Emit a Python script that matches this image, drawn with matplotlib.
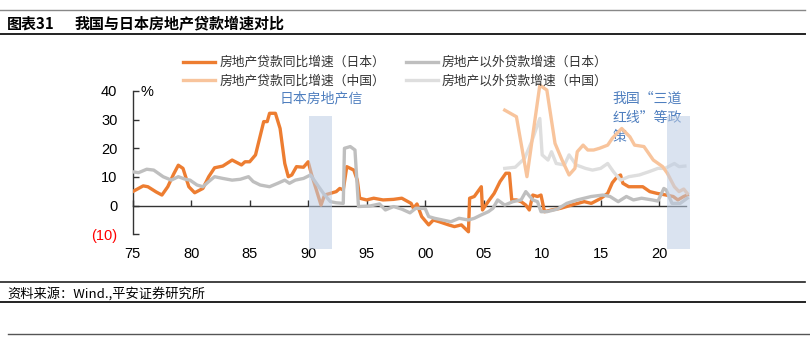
import matplotlib
matplotlib.use("Agg")
import matplotlib.pyplot as plt
from matplotlib.lines import Line2D

plt.rcParams['font.family'] = ['Liberation Sans', 'Noto Sans CJK SC', 'DejaVu Sans']

# Japan: real-estate loan growth (yoy, %)
jp_re_x = [1975.0, 1975.9, 1976.3, 1977.0, 1977.5, 1978.0, 1978.5, 1978.9, 1979.3, 1979.8,
           1980.3, 1981.0, 1981.5, 1982.0, 1982.7, 1983.5, 1984.3, 1984.6, 1985.0, 1985.5,
           1986.2, 1986.5, 1986.7, 1987.2, 1987.6, 1988.0, 1988.3, 1988.6, 1989.0, 1989.6,
           1990.0, 1990.3, 1990.7, 1991.1, 1991.4, 1991.9, 1992.4, 1992.7, 1993.0, 1993.3,
           1993.9, 1994.2, 1994.4, 1995.0, 1995.6, 1996.4, 1997.3, 1998.0, 1998.8, 1999.0,
           1999.3, 1999.7, 2000.3, 2000.7, 2001.2, 2002.0, 2002.5, 2003.1, 2003.7, 2003.8,
           2004.2, 2004.8, 2004.9, 2005.4, 2005.9, 2006.4, 2006.9, 2007.2, 2007.4, 2007.8,
           2008.2, 2008.6, 2008.9, 2009.2, 2009.6, 2009.9, 2010.2, 2010.8, 2011.6, 2012.5,
           2013.6, 2014.2, 2015.0, 2015.6, 2016.0, 2016.4, 2016.7, 2016.9, 2017.4, 2018.1,
           2018.6, 2019.2, 2019.8, 2020.6, 2021.2, 2021.6, 2022.1, 2022.4]
jp_re_y = [4.9, 6.9, 6.6, 4.8, 3.7, 6.6, 11.0, 14.1, 13.0, 6.6,
           4.5, 6.0, 10.1, 13.2, 13.8, 15.9, 14.2, 15.3, 15.3, 17.7,
           29.3, 29.3, 32.2, 32.2, 26.9, 14.7, 10.1, 10.7, 13.6, 13.4,
           15.3, 10.7, 5.5, 0.2, 3.7, 4.3, 4.9, 6.0, 5.5, 13.6,
           12.4, 8.9, 2.6, 2.0, 2.6, 2.0, 2.2, 2.6, 0.8, -0.9,
           0.6, -3.8, -6.7, -5.0, -5.6, -6.7, -7.3, -6.7, -9.1, 2.6,
           3.2, 6.6, -1.5, 1.5, 4.3, 8.4, 11.3, 11.3, 2.0, 2.0,
           1.4, 0.2, -1.5, 3.7, 3.2, 3.7, -2.1, -1.5, -0.9, 0.2,
           1.4, 0.8, 2.5, 4.3, 8.0, 10.0, 10.7, 7.8, 6.6, 6.6,
           6.6, 4.9, 4.3, 3.7, 3.2, 2.0, 3.2, 3.7]

# Japan: non-real-estate loan growth
jp_other_x = [1975.0, 1975.5, 1976.2, 1976.8, 1977.6, 1978.3, 1978.9, 1979.5, 1979.9, 1980.5,
              1981.0, 1981.5, 1982.0, 1982.7, 1983.5, 1984.2, 1984.9, 1985.3, 1985.9, 1986.7,
              1987.4, 1988.0, 1988.4, 1988.9, 1989.6, 1990.2, 1990.7, 1991.3, 1991.9, 1992.4,
              1993.0, 1993.1, 1993.6, 1994.0, 1994.3, 1995.3, 1996.1, 1996.6, 1997.3, 1998.0,
              1998.7, 1999.2, 2000.0, 2000.3, 2000.8, 2001.5, 2002.2, 2002.9, 2003.7, 2004.2,
              2004.8, 2005.4, 2005.8, 2006.2, 2006.8, 2007.5, 2008.2, 2008.6, 2009.2, 2009.6,
              2009.9, 2010.4, 2011.3, 2012.1, 2013.0, 2014.2, 2015.2, 2015.8, 2016.5, 2017.2,
              2017.8, 2018.5, 2019.4, 2019.9, 2020.4, 2020.6, 2021.1, 2021.8, 2022.4]
jp_other_y = [11.8, 11.5, 12.7, 12.4, 10.1, 8.9, 10.1, 9.2, 8.9, 7.2,
              6.6, 8.4, 10.1, 9.5, 8.9, 9.2, 10.1, 8.4, 7.2, 6.6,
              7.8, 8.9, 7.8, 8.9, 9.5, 10.7, 7.8, 4.3, 1.4, 1.0,
              0.8, 20.0, 20.6, 19.4, -0.3, -0.1, 0.6, -1.5, -0.3, -1.2,
              -2.5, -0.9, -1.0, -3.8, -4.4, -5.0, -5.6, -4.4, -5.0, -4.4,
              -3.2, -2.1, -0.9, 2.0, 0.2, 1.4, 2.0, 4.9, 2.0, 1.4,
              -2.1, -2.1, -1.2, 0.8, 2.0, 3.2, 3.7, 3.2, 1.4, 3.2,
              2.0, 2.6, 2.0, 1.6, 6.0, 5.5, 0.8, 0.8, 2.6]

# China: real-estate loan growth
cn_re_x = [2006.8, 2007.8, 2008.7, 2009.8, 2010.4, 2011.1, 2011.7, 2012.3, 2012.8, 2013.0,
           2013.5, 2013.9, 2014.4, 2014.9, 2015.6, 2016.0, 2016.8, 2017.5, 2017.9, 2018.7,
           2019.5, 2020.3, 2020.7, 2021.3, 2021.7, 2022.1, 2022.4]
cn_re_y = [33.3, 31.0, 10.1, 42.0, 40.3, 21.7, 15.9, 10.7, 13.0, 18.8,
           21.1, 19.4, 19.4, 20.0, 21.1, 23.5, 26.9, 24.0, 21.1, 20.6,
           15.9, 13.6, 11.3, 6.6, 4.9, 5.8, 4.3]

# China: non-real-estate loan growth
cn_other_x = [2006.8, 2007.7, 2008.5, 2009.1, 2009.8, 2010.0, 2010.5, 2010.8, 2011.2, 2011.9,
              2012.3, 2012.9, 2013.7, 2014.3, 2015.0, 2015.6, 2016.1, 2016.7, 2017.4, 2018.3,
              2019.1, 2019.9, 2020.5, 2021.3, 2021.7, 2022.2]
cn_other_y = [13.0, 13.4, 16.5, 22.3, 30.4, 17.7, 15.9, 18.8, 14.7, 14.2,
              17.7, 14.2, 13.0, 12.4, 13.0, 14.7, 11.8, 8.9, 10.1, 10.7,
              11.8, 13.0, 13.0, 14.7, 13.6, 13.8]

labels = ['房地产贷款同比增速（日本）', '房地产贷款同比增速（中国）',
          '房地产以外贷款增速（日本）', '房地产以外贷款增速（中国）']
year_ticks = [1975, 1980, 1985, 1990, 1995, 2000, 2005, 2010, 2015, 2020]
year_labels = ['75', '80', '85', '90', '95', '00', '05', '10', '15', '20']
value_ticks = [-10, 0, 10, 20, 30, 40]
value_labels = ['(10)', '0', '10', '20', '30', '40']
shade_spans = [(1990.1, 1992.0), (2020.7, 2022.6)]

fig = plt.figure(figsize=(8.1, 3.42), dpi=100)
ax = fig.add_axes([0.1638, 0.2728, 0.6933, 0.5117])

lw = 2.4
l1, = ax.plot(jp_re_x, jp_re_y, color='#ED7D31', lw=lw, zorder=3)
l3, = ax.plot(jp_other_x, jp_other_y, color='#BFBFBF', lw=lw, zorder=4)
l4, = ax.plot(cn_other_x, cn_other_y, color='#DEDEDE', lw=lw, zorder=3)
l2, = ax.plot(cn_re_x, cn_re_y, color='#F8C49C', lw=lw, zorder=4)

for a, b in shade_spans:
    ax.axvspan(a, b, ymin=0.0, ymax=(31.2 + 15) / 61, color='#BDCDE4', alpha=0.55,
               lw=0, zorder=5)

ax.set_xlim(1975, 2023)
ax.set_ylim(-15, 46)

for s in ['top', 'right']:
    ax.spines[s].set_visible(False)
ax.spines['left'].set_bounds(-10, 40)
ax.spines['bottom'].set_position(('data', 0))
ax.spines['bottom'].set_bounds(1975, 2022.3)
for s in ['left', 'bottom']:
    ax.spines[s].set_color('#333333')
    ax.spines[s].set_linewidth(1.0)

ax.set_yticks(value_ticks)
ax.set_yticklabels(value_labels)
ax.set_xticks(year_ticks)
ax.set_xticklabels(year_labels)
ax.tick_params(axis='y', direction='in', length=4, width=1, colors='#333333',
               labelcolor='black', labelsize=10.5, pad=11)
ax.tick_params(axis='x', direction='in', length=4, width=1, colors='#333333',
               labelcolor='black', labelsize=10.5, pad=30)
ax.get_yticklabels()[0].set_color('red')

ax.text(1975.7, 39.5, '%', fontsize=10.5, ha='left', va='center')

ax.text(1991.1, 37.5, '日本房地产信', fontsize=10, color='#4F7FBF', ha='center',
        va='center', family=['Noto Sans CJK SC'])
ax.text(2016.0, 30.7, '我国“三道\n红线”等政\n策', fontsize=10, color='#4F7FBF', ha='left',
        va='center', linespacing=1.45, family=['Noto Sans CJK SC'])

leg = fig.legend([l1, l2, l3, l4], labels, ncol=2, loc='upper left',
                 bbox_to_anchor=(183 / 810, 1 - 56 / 342), frameon=False,
                 handlelength=2.5, handletextpad=0.35,
                 columnspacing=1.6, labelspacing=0.42, borderpad=0, borderaxespad=0,
                 prop={'family': ['Noto Sans CJK SC'], 'size': 9.2})
for t in leg.get_texts():
    t.set_color('#333333')

# header and footer text with rules
fig.text(7 / 810, 1 - 23.5 / 342, '图表31', fontsize=10.8,
         fontweight='bold', ha='left', va='center', family=['Noto Sans CJK SC'])
fig.text(75 / 810, 1 - 23.5 / 342, '我国与日本房地产贷款增速对比', fontsize=10.8,
         fontweight='bold', ha='left', va='center', family=['Noto Sans CJK SC'])
fig.text(7 / 810, 1 - 294 / 342, '资料来源：Wind.,平安证券研究所', fontsize=9.5,
         ha='left', va='center', style='italic', family=['Noto Sans CJK SC'])


def rule(y, x0=0.0, x1=1.0, color='#222222', lw=1.2):
    fig.add_artist(Line2D([x0, x1], [1 - y / 342, 1 - y / 342], color=color, lw=lw,
                          transform=fig.transFigure))


rule(10, 0.0, 805 / 810, color='#888888', lw=1.0)
rule(34, 0.0, 805 / 810, lw=1.4)
rule(282, 0.0, 805 / 810)
rule(302, 0.0, 805 / 810, lw=1.4)
rule(334, 8 / 810, 1.0, color='#555555', lw=1.0)

fig.savefig('out.png', dpi=100)
